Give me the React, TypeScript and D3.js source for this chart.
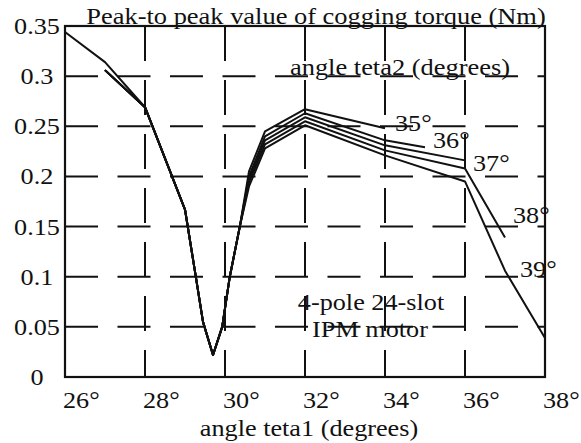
import React from "react";
import * as d3 from "d3";

// ---- data ----
const teta1Ticks = [26, 28, 30, 32, 34, 36, 38];
const gridTeta1 = [28, 30, 32, 34, 36];
const valueTicks = [0, 0.05, 0.1, 0.15, 0.2, 0.25, 0.3, 0.35];
const valueTickLabels = ["0", "0.05", "0.1", "0.15", "0.2", "0.25", "0.3", "0.35"];
const gridValues = [0.05, 0.1, 0.15, 0.2, 0.25, 0.3];

const teta2Labels = ["35°", "36°", "37°", "38°", "39°"];

const teta1_35 = [27, 28, 29, 29.25, 29.45, 29.7, 29.93, 30.12, 30.37, 30.6, 31, 32, 34];
const torque_35 = [0.306, 0.269, 0.167, 0.105, 0.055, 0.022, 0.05, 0.1, 0.15, 0.205, 0.245, 0.267, 0.248];

const teta1_36 = [27, 28, 29, 29.25, 29.45, 29.7, 29.93, 30.12, 30.37, 30.6, 31, 32, 34, 35];
const torque_36 = [0.306, 0.269, 0.167, 0.105, 0.055, 0.022, 0.05, 0.1, 0.15, 0.2, 0.24, 0.263, 0.236, 0.229];

const teta1_37 = [27, 28, 29, 29.25, 29.45, 29.7, 29.93, 30.12, 30.37, 30.6, 31, 32, 34, 36];
const torque_37 = [0.306, 0.269, 0.167, 0.105, 0.055, 0.022, 0.05, 0.1, 0.15, 0.197, 0.236, 0.259, 0.231, 0.216];

const teta1_38 = [27, 28, 29, 29.25, 29.45, 29.7, 29.93, 30.12, 30.37, 30.6, 31, 32, 34, 36, 37];
const torque_38 = [0.306, 0.269, 0.167, 0.105, 0.055, 0.022, 0.05, 0.1, 0.15, 0.194, 0.232, 0.255, 0.226, 0.208, 0.139];

const teta1_39 = [26, 27, 28, 29, 29.25, 29.45, 29.7, 29.93, 30.12, 30.37, 30.6, 31, 32, 34, 36, 37, 38];
const torque_39 = [0.344, 0.314, 0.269, 0.167, 0.105, 0.055, 0.022, 0.05, 0.1, 0.15, 0.19, 0.228, 0.251, 0.221, 0.195, 0.106, 0.039];

const seriesX = [teta1_35, teta1_36, teta1_37, teta1_38, teta1_39];
const seriesY = [torque_35, torque_36, torque_37, torque_38, torque_39];

const titleText = "Peak-to peak value of cogging torque (Nm)";
const xTitleText = "angle teta1 (degrees)";
const legendTitleText = "angle teta2 (degrees)";
const noteLines = ["4-pole 24-slot", "IPM motor"];

// ---- layout ----
const W = 581;
const H = 443;
const left = 65;
const right = 545;
const top = 26;
const bottom = 377;
const FONT = "'Liberation Serif', 'Times New Roman', serif";
const FS = 23;
const SX = 1.14;
const INK = "#111";

// label offsets from each curve's end point (dx, dy)
const labelOffsets: [number, number][] = [
  [10, 3],
  [8, 1],
  [8, 11],
  [8, -15],
  [-25, -61],
];

function SText(props: {
  x: number;
  y: number;
  anchor?: string;
  size?: number;
  sx?: number;
  children: React.ReactNode;
}) {
  const { x, y, anchor = "start", size = FS, sx = SX, children } = props;
  return (
    <text
      transform={`translate(${x},${y}) scale(${sx},1)`}
      textAnchor={anchor}
      fontSize={size}
      fontFamily={FONT}
      fill={INK}
    >
      {children}
    </text>
  );
}

export default function App() {
  const x = d3.scaleLinear().domain([26, 38]).range([left, right]);
  const y = d3.scaleLinear().domain([0, 0.35]).range([bottom, top]);
  const line = d3
    .line<[number, number]>()
    .x((d) => x(d[0]))
    .y((d) => y(d[1]));

  return (
    <svg
      width={W}
      height={H}
      style={{ position: "absolute", left: 0, top: 0, background: "#fff" }}
    >
      <rect x={0} y={0} width={W} height={H} fill="#fff" />
      {/* horizontal dashed grid */}
      {gridValues.map((v) => (
        <line
          key={"h" + v}
          x1={left}
          x2={right}
          y1={y(v)}
          y2={y(v)}
          stroke={INK}
          strokeWidth={2}
          strokeDasharray="33 19.5"
        />
      ))}
      {/* vertical dashed grid */}
      {gridTeta1.map((t) => (
        <line
          key={"v" + t}
          x1={x(t)}
          x2={x(t)}
          y1={top}
          y2={bottom}
          stroke={INK}
          strokeWidth={2}
          strokeDasharray="35 19"
        />
      ))}
      {/* frame */}
      <rect
        x={left}
        y={top}
        width={right - left}
        height={bottom - top}
        fill="none"
        stroke={INK}
        strokeWidth={2.2}
      />
      {/* curves */}
      {seriesX.map((xs, i) => (
        <path
          key={"s" + i}
          d={line(xs.map((t, j) => [t, seriesY[i][j]]) as [number, number][]) || ""}
          fill="none"
          stroke={INK}
          strokeWidth={2}
          strokeLinejoin="round"
        />
      ))}
      {/* curve labels */}
      {seriesX.map((xs, i) => {
        const n = xs.length - 1;
        return (
          <SText
            key={"l" + i}
            x={x(xs[n]) + labelOffsets[i][0]}
            y={y(seriesY[i][n]) + labelOffsets[i][1]}
          >
            {teta2Labels[i]}
          </SText>
        );
      })}
      {/* y tick labels */}
      {valueTicks.map((v, i) => (
        <SText key={"yt" + v} x={37} y={y(v) + 8} anchor="middle">
          {valueTickLabels[i]}
        </SText>
      ))}
      {/* x tick labels */}
      {teta1Ticks.map((t) => (
        <SText key={"xt" + t} x={x(t) - 2} y={408}>
          {t + "°"}
        </SText>
      ))}
      {/* titles */}
      <SText x={316} y={24} anchor="middle" sx={1.15}>
        {titleText}
      </SText>
      <SText x={400} y={75} anchor="middle" sx={1.15}>
        {legendTitleText}
      </SText>
      <SText x={309} y={436} anchor="middle">
        {xTitleText}
      </SText>
      <SText x={371} y={310} anchor="middle">
        {noteLines[0]}
      </SText>
      <SText x={370} y={337} anchor="middle">
        {noteLines[1]}
      </SText>
    </svg>
  );
}
